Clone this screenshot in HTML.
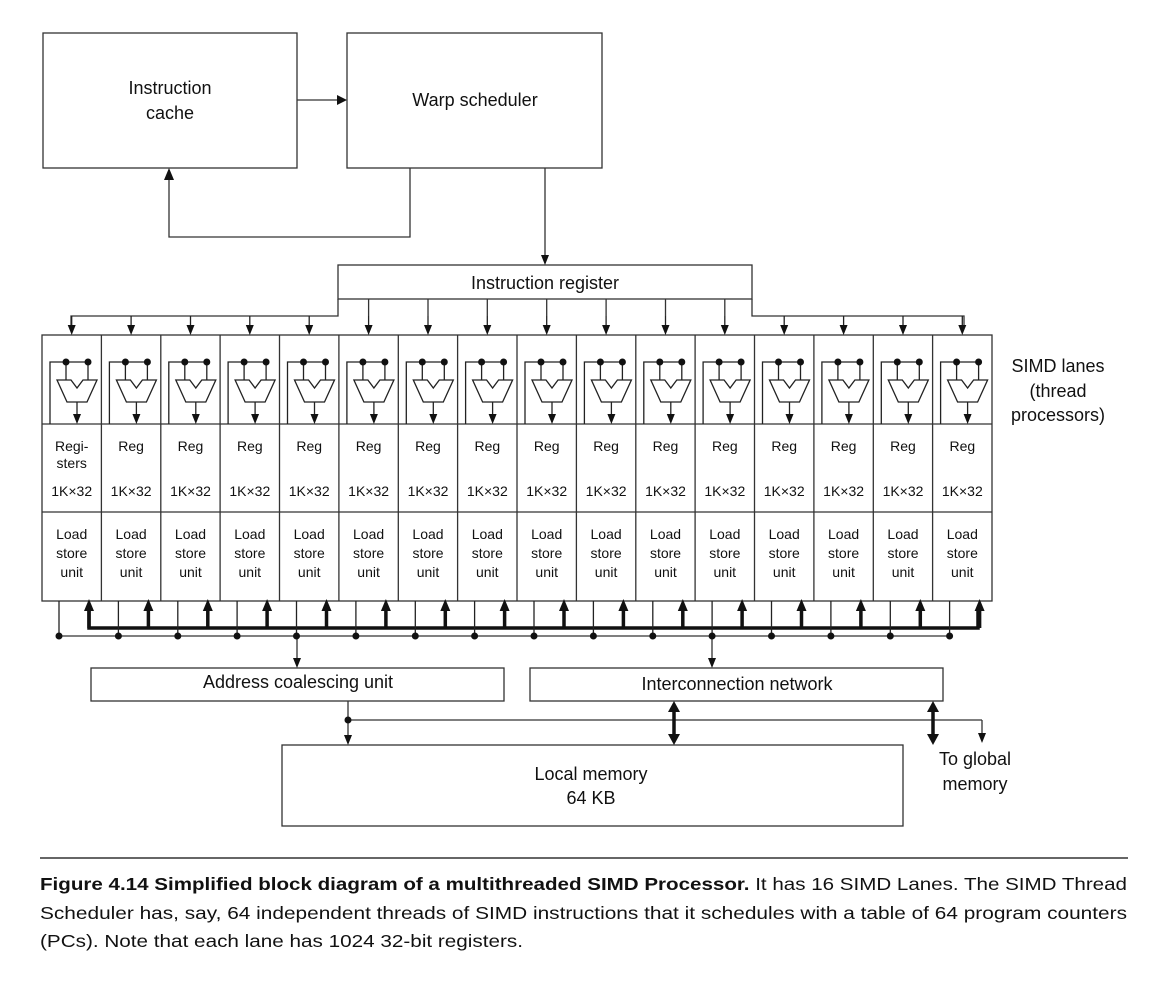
<!DOCTYPE html>
<html><head><meta charset="utf-8"><style>
html,body{margin:0;padding:0;background:#fff;}
svg{display:block;}
text{font-family:"Liberation Sans",sans-serif;fill:#111;}
</style></head><body>
<svg width="1164" height="984" viewBox="0 0 1164 984" xmlns="http://www.w3.org/2000/svg">
<defs>
<path id="dn" d="M-4,-10 L4,-10 L0,0 Z" fill="#111"/>
<path id="up" d="M-5,10 L5,10 L0,-2 Z" fill="#111"/>
<g id="lane">
<g fill="none" stroke="#222" stroke-width="1.3">
<polyline points="8,424 8,362 46,362"/>
<line x1="24" y1="362" x2="24" y2="380"/><line x1="46" y1="362" x2="46" y2="380"/>
<polygon points="15,380 29,380 35,388 41,380 55,380 45,402 25,402" fill="#fff"/>
<line x1="35" y1="402" x2="35" y2="415"/>
<line x1="29.7" y1="316" x2="29.7" y2="326"/>
<line x1="17" y1="601" x2="17" y2="636"/>
</g>
<path d="M31,414 L39,414 L35,424 Z" fill="#111"/>
<circle cx="24" cy="362" r="3.5" fill="#111"/><circle cx="46" cy="362" r="3.5" fill="#111"/>
<use href="#dn" x="29.7" y="335"/>
<circle cx="17" cy="636" r="3.5" fill="#111"/>
<line x1="47" y1="628" x2="47" y2="609" stroke="#111" stroke-width="3.5"/>
<use href="#up" x="47" y="601"/>
</g>
</defs>
<g fill="none" stroke="#333" stroke-width="1.3">
<rect x="43" y="33" width="254" height="135"/>
<rect x="347" y="33" width="255" height="135"/>
<line x1="297" y1="100" x2="338" y2="100"/>
<polyline points="410,168 410,237 169,237 169,178"/>
<line x1="545" y1="168" x2="545" y2="255"/>
<rect x="338" y="265" width="414" height="34"/>
<polyline points="71,326 71,316 338,316 338,299"/>
<polyline points="964,326 964,316 752,316 752,299"/>
<line x1="368.6" y1="299" x2="368.6" y2="316"/><line x1="428" y1="299" x2="428" y2="316"/><line x1="487.3" y1="299" x2="487.3" y2="316"/><line x1="546.7" y1="299" x2="546.7" y2="316"/><line x1="606.1" y1="299" x2="606.1" y2="316"/><line x1="665.5" y1="299" x2="665.5" y2="316"/><line x1="724.8" y1="299" x2="724.8" y2="316"/>
<rect x="42" y="335" width="950" height="266"/>
<line x1="42" y1="424" x2="992" y2="424"/>
<line x1="42" y1="512" x2="992" y2="512"/>
<rect x="91" y="668" width="413" height="33"/>
<rect x="530" y="668" width="413" height="33"/>
<rect x="282" y="745" width="621" height="81"/>
<line x1="59" y1="636" x2="950" y2="636"/>
<line x1="297" y1="636" x2="297" y2="658"/>
<line x1="712" y1="636" x2="712" y2="658"/>
<line x1="348" y1="701" x2="348" y2="735"/>
<line x1="348" y1="720" x2="982" y2="720"/>
<line x1="982" y1="720" x2="982" y2="733"/>
</g>
<path d="M337,95 L347,100 L337,105 Z" fill="#111"/>
<path d="M164,180 L174,180 L169,168 Z" fill="#111"/>
<use href="#dn" x="545" y="265"/>
<use href="#dn" x="348" y="745"/>
<use href="#dn" x="982" y="743"/>
<use href="#dn" x="297" y="668"/>
<use href="#dn" x="712" y="668"/>
<circle cx="348" cy="720" r="3.5" fill="#111"/>
<g stroke="#111" stroke-width="3.5" fill="none">
<polyline points="89,609 89,628 978,628 978,609"/>
<line x1="674" y1="710" x2="674" y2="736"/>
<line x1="933" y1="710" x2="933" y2="736"/>
</g>
<g fill="#111">
<path d="M668,712 L680,712 L674,701 Z"/><path d="M668,734 L680,734 L674,745 Z"/>
<path d="M927,712 L939,712 L933,701 Z"/><path d="M927,734 L939,734 L933,745 Z"/>
</g>
<use href="#lane" x="42"/><use href="#lane" x="101.4"/><use href="#lane" x="160.8"/><use href="#lane" x="220.1"/><use href="#lane" x="279.5"/><use href="#lane" x="338.9"/><use href="#lane" x="398.3"/><use href="#lane" x="457.6"/><use href="#lane" x="517"/><use href="#lane" x="576.4"/><use href="#lane" x="635.8"/><use href="#lane" x="695.1"/><use href="#lane" x="754.5"/><use href="#lane" x="813.9"/><use href="#lane" x="873.3"/><use href="#lane" x="932.6"/>
<g stroke="#333" stroke-width="1.3">
<line x1="101.4" y1="335" x2="101.4" y2="601"/><line x1="160.8" y1="335" x2="160.8" y2="601"/><line x1="220.1" y1="335" x2="220.1" y2="601"/><line x1="279.5" y1="335" x2="279.5" y2="601"/><line x1="338.9" y1="335" x2="338.9" y2="601"/><line x1="398.3" y1="335" x2="398.3" y2="601"/><line x1="457.6" y1="335" x2="457.6" y2="601"/><line x1="517" y1="335" x2="517" y2="601"/><line x1="576.4" y1="335" x2="576.4" y2="601"/><line x1="635.8" y1="335" x2="635.8" y2="601"/><line x1="695.1" y1="335" x2="695.1" y2="601"/><line x1="754.5" y1="335" x2="754.5" y2="601"/><line x1="813.9" y1="335" x2="813.9" y2="601"/><line x1="873.3" y1="335" x2="873.3" y2="601"/><line x1="932.6" y1="335" x2="932.6" y2="601"/>
</g>
<g font-size="18" text-anchor="middle">
<text x="170" y="94">Instruction</text><text x="170" y="119">cache</text>
<text x="475" y="106">Warp scheduler</text>
<text x="545" y="289">Instruction register</text>
<text x="298" y="688">Address coalescing unit</text>
<text x="737" y="690">Interconnection network</text>
<text x="591" y="780">Local memory</text><text x="591" y="804">64 KB</text>
<text x="975" y="765">To global</text><text x="975" y="790">memory</text>
<text x="1058" y="372">SIMD lanes</text><text x="1058" y="397">(thread</text><text x="1058" y="421">processors)</text>
</g>
<g font-size="14" text-anchor="middle">
<text x="71.7" y="451">Regi-</text><text x="71.7" y="468">sters</text>
<text x="131.1" y="451">Reg</text><text x="190.5" y="451">Reg</text><text x="249.8" y="451">Reg</text><text x="309.2" y="451">Reg</text><text x="368.6" y="451">Reg</text><text x="428" y="451">Reg</text><text x="487.3" y="451">Reg</text><text x="546.7" y="451">Reg</text><text x="606.1" y="451">Reg</text><text x="665.5" y="451">Reg</text><text x="724.8" y="451">Reg</text><text x="784.2" y="451">Reg</text><text x="843.6" y="451">Reg</text><text x="903" y="451">Reg</text><text x="962.3" y="451">Reg</text>
<text x="71.7" y="496">1K×32</text><text x="131.1" y="496">1K×32</text><text x="190.5" y="496">1K×32</text><text x="249.8" y="496">1K×32</text><text x="309.2" y="496">1K×32</text><text x="368.6" y="496">1K×32</text><text x="428" y="496">1K×32</text><text x="487.3" y="496">1K×32</text><text x="546.7" y="496">1K×32</text><text x="606.1" y="496">1K×32</text><text x="665.5" y="496">1K×32</text><text x="724.8" y="496">1K×32</text><text x="784.2" y="496">1K×32</text><text x="843.6" y="496">1K×32</text><text x="903" y="496">1K×32</text><text x="962.3" y="496">1K×32</text>
<text x="71.7" y="539">Load</text><text x="131.1" y="539">Load</text><text x="190.5" y="539">Load</text><text x="249.8" y="539">Load</text><text x="309.2" y="539">Load</text><text x="368.6" y="539">Load</text><text x="428" y="539">Load</text><text x="487.3" y="539">Load</text><text x="546.7" y="539">Load</text><text x="606.1" y="539">Load</text><text x="665.5" y="539">Load</text><text x="724.8" y="539">Load</text><text x="784.2" y="539">Load</text><text x="843.6" y="539">Load</text><text x="903" y="539">Load</text><text x="962.3" y="539">Load</text>
<text x="71.7" y="558">store</text><text x="131.1" y="558">store</text><text x="190.5" y="558">store</text><text x="249.8" y="558">store</text><text x="309.2" y="558">store</text><text x="368.6" y="558">store</text><text x="428" y="558">store</text><text x="487.3" y="558">store</text><text x="546.7" y="558">store</text><text x="606.1" y="558">store</text><text x="665.5" y="558">store</text><text x="724.8" y="558">store</text><text x="784.2" y="558">store</text><text x="843.6" y="558">store</text><text x="903" y="558">store</text><text x="962.3" y="558">store</text>
<text x="71.7" y="577">unit</text><text x="131.1" y="577">unit</text><text x="190.5" y="577">unit</text><text x="249.8" y="577">unit</text><text x="309.2" y="577">unit</text><text x="368.6" y="577">unit</text><text x="428" y="577">unit</text><text x="487.3" y="577">unit</text><text x="546.7" y="577">unit</text><text x="606.1" y="577">unit</text><text x="665.5" y="577">unit</text><text x="724.8" y="577">unit</text><text x="784.2" y="577">unit</text><text x="843.6" y="577">unit</text><text x="903" y="577">unit</text><text x="962.3" y="577">unit</text>
</g>
<line x1="40" y1="858" x2="1128" y2="858" stroke="#333" stroke-width="1.5"/>
<g font-size="17.5">
<text x="40" y="890" textLength="1087" lengthAdjust="spacingAndGlyphs"><tspan font-weight="bold">Figure 4.14  Simplified block diagram of a multithreaded SIMD Processor.</tspan> It has 16 SIMD Lanes. The SIMD Thread</text>
<text x="40" y="919" textLength="1087" lengthAdjust="spacingAndGlyphs">Scheduler has, say, 64 independent threads of SIMD instructions that it schedules with a table of 64 program counters</text>
<text x="40" y="947" textLength="483" lengthAdjust="spacingAndGlyphs">(PCs). Note that each lane has 1024 32-bit registers.</text>
</g>
</svg>
</body></html>
